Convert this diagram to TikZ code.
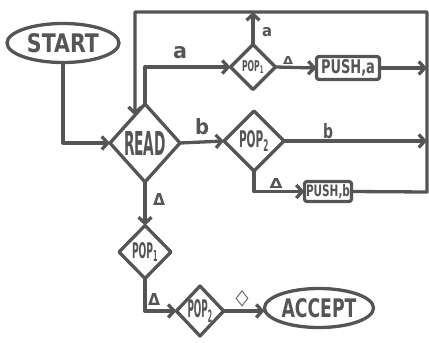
\documentclass[tikz,border=0pt]{standalone}
\usepackage{fontspec}
\setmainfont{DejaVu Sans}
\usetikzlibrary{shapes.geometric,arrows.meta}
\definecolor{ink}{HTML}{555555}
\tikzset{
 ln/.style={draw=ink,line width=3.3pt,line join=round,line cap=round},
 arr/.style={ln,-{Straight Barb[length=6pt,width=13pt]}},
 dia/.style={diamond,ln,inner sep=0pt,outer sep=0pt,text=ink,font=\bfseries},
 ell/.style={ellipse,ln,inner sep=0pt,outer sep=0pt,text=ink,font=\bfseries},
 box/.style={rectangle,rounded corners=2.5pt,ln,inner sep=0pt,outer sep=0pt,text=ink,font=\bfseries},
 txt/.style={text=ink,inner sep=0pt,font=\bfseries},
}
\newcommand{\rb}[3]{\resizebox{#1pt}{#2pt}{#3}}
\begin{document}
\begin{tikzpicture}[x=1pt,y=-1pt]
\useasboundingbox (0,0) rectangle (429,343);
% nodes
\node[ell,minimum width=112pt,minimum height=39pt] (start) at (63,43) {\rb{72}{19}{START}};
\node[dia,minimum width=70pt,minimum height=78pt] (read) at (145,143) {\rb{42}{24}{READ}};
\node[dia,minimum width=45pt,minimum height=45pt] (popa) at (253,67) {\rb{22}{11}{POP\textsubscript{1}}};
\node[box,minimum width=63pt,minimum height=23pt] (pusha) at (348,68) {\rb{54}{14}{PUSH,a}};
\node[dia,minimum width=60pt,minimum height=60pt] (popb) at (254,141) {\rb{30}{17}{POP\textsubscript{2}}};
\node[box,minimum width=47pt,minimum height=20pt] (pushb) at (328,191.5) {\rb{44}{12}{PUSH,b}};
\node[dia,minimum width=52pt,minimum height=53pt] (popc) at (145,252) {\rb{26}{16}{POP\textsubscript{1}}};
\node[dia,minimum width=44pt,minimum height=50pt] (popd) at (200,311) {\rb{25}{18}{POP\textsubscript{2}}};
\node[ell,minimum width=109pt,minimum height=39pt] (accept) at (319,308) {\rb{75}{19}{ACCEPT}};
% rail coordinates
\coordinate (railtop) at (427,12);
\coordinate (railbot) at (427,192);
\coordinate (tl) at (read.110 |- railtop);
% labels
\node[txt] (la1) at (180,53) {\rb{14}{12}{a}};
\node[txt] (lb1) at (202,127) {\rb{14}{16}{b}};
\node[txt] (la2) at (267,32) {\rb{10}{9}{a}};
\node[txt] (ld1) at (288,60) {\rb{10}{8}{Δ}};
\node[txt] (lb2) at (328,131) {\rb{10}{15}{b}};
\node[txt] (ld2) at (276,183) {\rb{13}{10}{Δ}};
\node[txt] (ld3) at (159,199) {\rb{12}{12}{Δ}};
\node[txt] (ld4) at (154,299) {\rb{12}{12}{Δ}};
\node[txt] (ld5) at (242,299) {\rb{13}{14}{◇}};
% connectors
\draw[arr] (start.south) |- (read.west);
\draw[arr] (read.north) |- (popa.west);
\draw[arr] (popa.east) -- (pusha.west);
\draw[arr] (pusha.east) -- (pusha.east -| railtop);
\draw[arr] (popa.north) -- (popa.north |- railtop);
\draw[arr] (read.east) -- (popb.west);
\draw[arr] (popb.east) -- (popb.east -| railtop);
\draw[arr] (popb.south) |- (pushb.west);
\draw[arr] (pushb.east) -- (railbot) -- (railtop) -- (tl) -- (read.110);
\draw[arr] (read.south) -- (popc.north);
\draw[arr] (popc.south) |- (popd.west);
\draw[arr] (popd.east) -- (popd.east -| accept.west);
\end{tikzpicture}
\end{document}
